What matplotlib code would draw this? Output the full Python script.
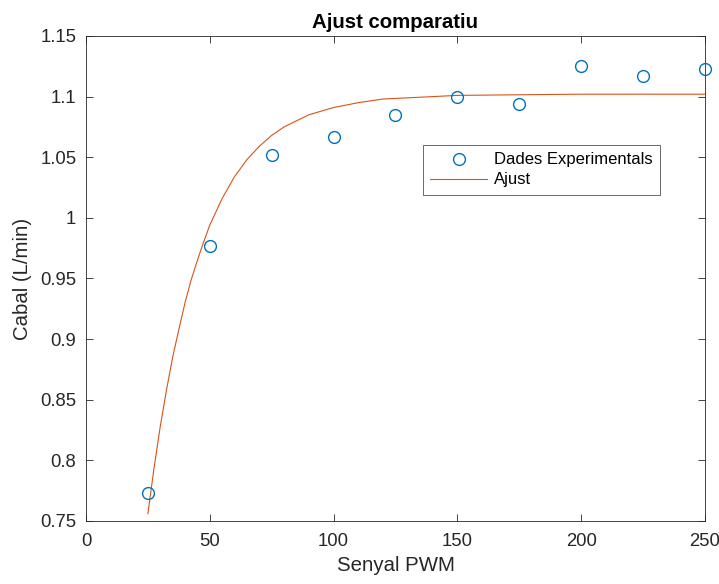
import matplotlib
matplotlib.use('Agg')
import matplotlib.pyplot as plt

plt.rcParams['font.family'] = ['Liberation Sans', 'DejaVu Sans']

# experimental points
pwm = [25, 50, 75, 100, 125, 150, 175, 200, 225, 250]
cabal = [0.773, 0.977, 1.052, 1.067, 1.085, 1.100, 1.094, 1.125, 1.117, 1.123]

# fitted curve
fit_x = [25, 27.5, 30, 32.5, 35, 37.5, 40, 42.5, 45, 47.5, 50, 55, 60, 65, 70,
         75, 80, 90, 100, 110, 120, 130, 140, 150, 175, 200, 225, 250]
fit_y = [0.756, 0.794, 0.828, 0.858, 0.885, 0.908, 0.930, 0.949, 0.965, 0.980,
         0.994, 1.016, 1.034, 1.048, 1.059, 1.068, 1.075, 1.085, 1.091, 1.095,
         1.098, 1.099, 1.100, 1.101, 1.1015, 1.102, 1.102, 1.102]

fig = plt.figure(figsize=(7.19, 5.84), dpi=100)
ax = fig.add_axes([0.1196, 0.1079, 0.8609, 0.8305])

ax.plot(pwm, cabal, 'o', mfc='none', mec='#0072BD', ms=8.5, mew=1.0,
        label='Dades Experimentals', clip_on=False, zorder=3)
ax.plot(fit_x, fit_y, '-', color='#D95319', lw=0.8, label='Ajust')

ax.set_xlim(0, 250)
ax.set_ylim(0.75, 1.15)
ax.set_xticks([0, 50, 100, 150, 200, 250])
ax.set_yticks([0.75, 0.8, 0.85, 0.9, 0.95, 1, 1.05, 1.1, 1.15])
ax.set_yticklabels(['0.75', '0.8', '0.85', '0.9', '0.95', '1', '1.05', '1.1', '1.15'])
ax.tick_params(direction='in', top=True, right=True, labelsize=13.3, length=5,
               width=0.6, color='#262626', labelcolor='#262626')
ax.tick_params(axis='x', pad=9)
ax.tick_params(axis='y', pad=7)
for s in ax.spines.values():
    s.set_linewidth(0.6)
    s.set_color('#262626')

ax.set_xlabel('Senyal PWM', fontsize=14.7, color='#262626', labelpad=4)
ax.set_ylabel('Cabal (L/min)', fontsize=14.7, color='#262626', labelpad=6)
ax.set_title('Ajust comparatiu', fontsize=14.7, fontweight='bold', pad=6)

leg = ax.legend(loc='upper left', bbox_to_anchor=(0.5444, 0.7753), fontsize=12,
                frameon=True, fancybox=False, edgecolor='#262626',
                borderpad=0.45, handlelength=3.4, labelspacing=0.3,
                borderaxespad=0, handletextpad=0.4)
leg.get_frame().set_linewidth(0.6)

fig.savefig('out.png', dpi=100)
